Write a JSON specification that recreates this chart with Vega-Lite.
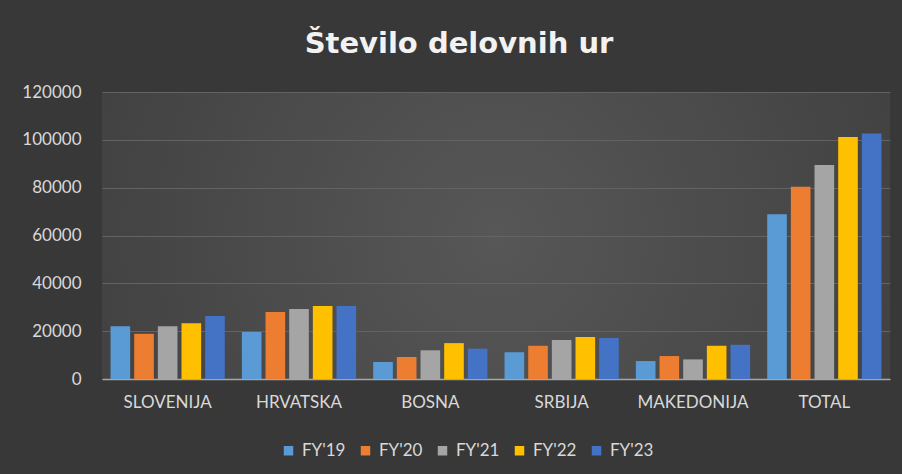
{
  "$schema": "https://vega.github.io/schema/vega-lite/v6.json",
  "autosize": {"type": "none"},
  "width": 788,
  "height": 287,
  "padding": {"left": 102, "top": 92, "right": 12, "bottom": 95},
  "background": "#383838",
  "title": {
    "text": "Število delovnih ur",
    "font": "DejaVu Sans",
    "fontSize": 29,
    "fontWeight": "bold",
    "color": "#f2f2f2",
    "anchor": "middle",
    "dx": -37,
    "offset": 24
  },
  "data": {
    "values": [
      {"region": "SLOVENIJA", "year": "FY'19", "hours": 22100},
      {"region": "SLOVENIJA", "year": "FY'20", "hours": 18900},
      {"region": "SLOVENIJA", "year": "FY'21", "hours": 22100},
      {"region": "SLOVENIJA", "year": "FY'22", "hours": 23300},
      {"region": "SLOVENIJA", "year": "FY'23", "hours": 26300},
      {"region": "HRVATSKA", "year": "FY'19", "hours": 19600},
      {"region": "HRVATSKA", "year": "FY'20", "hours": 28000},
      {"region": "HRVATSKA", "year": "FY'21", "hours": 29300},
      {"region": "HRVATSKA", "year": "FY'22", "hours": 30500},
      {"region": "HRVATSKA", "year": "FY'23", "hours": 30500},
      {"region": "BOSNA", "year": "FY'19", "hours": 7100},
      {"region": "BOSNA", "year": "FY'20", "hours": 9200},
      {"region": "BOSNA", "year": "FY'21", "hours": 12000},
      {"region": "BOSNA", "year": "FY'22", "hours": 15000},
      {"region": "BOSNA", "year": "FY'23", "hours": 12700},
      {"region": "SRBIJA", "year": "FY'19", "hours": 11200},
      {"region": "SRBIJA", "year": "FY'20", "hours": 13900},
      {"region": "SRBIJA", "year": "FY'21", "hours": 16300},
      {"region": "SRBIJA", "year": "FY'22", "hours": 17600},
      {"region": "SRBIJA", "year": "FY'23", "hours": 17100},
      {"region": "MAKEDONIJA", "year": "FY'19", "hours": 7500},
      {"region": "MAKEDONIJA", "year": "FY'20", "hours": 9600},
      {"region": "MAKEDONIJA", "year": "FY'21", "hours": 8200},
      {"region": "MAKEDONIJA", "year": "FY'22", "hours": 13900},
      {"region": "MAKEDONIJA", "year": "FY'23", "hours": 14300},
      {"region": "TOTAL", "year": "FY'19", "hours": 68900},
      {"region": "TOTAL", "year": "FY'20", "hours": 80400},
      {"region": "TOTAL", "year": "FY'21", "hours": 89500},
      {"region": "TOTAL", "year": "FY'22", "hours": 101200},
      {"region": "TOTAL", "year": "FY'23", "hours": 102700}
    ]
  },
  "mark": {"type": "bar"},
  "encoding": {
    "x": {
      "field": "region",
      "type": "nominal",
      "sort": null,
      "scale": {"paddingInner": 0.13, "paddingOuter": 0.065},
      "axis": {
        "title": null,
        "labelAngle": 0,
        "labelFont": "Lato",
        "labelFontSize": 17,
        "labelColor": "#d9d9d9",
        "labelPadding": 15,
        "ticks": false,
        "domainColor": "#a6a6a6",
        "domainWidth": 1.5,
        "grid": false
      }
    },
    "xOffset": {
      "field": "year",
      "type": "nominal",
      "scale": {"paddingInner": 0.17, "paddingOuter": 0}
    },
    "y": {
      "field": "hours",
      "type": "quantitative",
      "scale": {"domain": [0, 120000]},
      "axis": {
        "title": null,
        "values": [0, 20000, 40000, 60000, 80000, 100000, 120000],
        "format": "d",
        "labelFont": "Lato",
        "labelFontSize": 17,
        "labelColor": "#d9d9d9",
        "labelPadding": 21,
        "ticks": false,
        "domain": false,
        "gridColor": "#636363",
        "gridWidth": 1
      }
    },
    "color": {
      "field": "year",
      "type": "nominal",
      "scale": {
        "domain": ["FY'19", "FY'20", "FY'21", "FY'22", "FY'23"],
        "range": ["#5b9bd5", "#ed7d31", "#a5a5a5", "#ffc000", "#4472c4"]
      },
      "legend": {
        "title": null,
        "orient": "none",
        "direction": "horizontal",
        "legendX": 178,
        "legendY": 350,
        "symbolType": "square",
        "symbolSize": 90,
        "symbolStrokeWidth": 0,
        "labelFont": "Lato",
        "labelFontSize": 17,
        "labelColor": "#d9d9d9",
        "labelOffset": 5,
        "columnPadding": 11
      }
    }
  },
  "config": {
    "view": {
      "stroke": null,
      "fill": {
        "gradient": "radial",
        "x1": 0.5, "y1": 0.5, "r1": 0,
        "x2": 0.5, "y2": 0.5, "r2": 0.75,
        "stops": [
          {"offset": 0, "color": "#575757"},
          {"offset": 1, "color": "#393939"}
        ]
      }
    }
  }
}
